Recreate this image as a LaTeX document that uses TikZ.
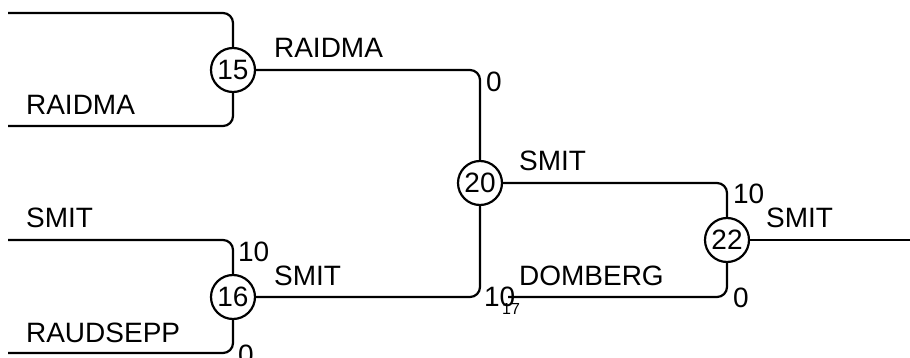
\documentclass[tikz,border=0pt]{standalone}
\usepackage{fontspec}
\setmainfont{Liberation Sans}
\begin{document}
\begin{tikzpicture}[x=1pt,y=-1pt,
  line width=2.2pt,
  matchnode/.style={circle,draw,line width=2.2pt,minimum size=44pt,inner sep=0pt,font=\fontsize{28}{30}\selectfont},
  namelbl/.style={anchor=base west,inner sep=0pt,font=\fontsize{28}{30}\selectfont},
  scorelbl/.style={anchor=base west,inner sep=0pt,font=\fontsize{28}{30}\selectfont},
  smalllbl/.style={anchor=base west,inner sep=0pt,font=\fontsize{16}{17}\selectfont},
  conn/.style={rounded corners=10pt}]
\useasboundingbox (0,0) rectangle (910,358);
% match nodes
\node[matchnode] (m15) at (233,70) {15};
\node[matchnode] (m16) at (233,297) {16};
\node[matchnode] (m20) at (480,183) {20};
\node[matchnode] (m22) at (727,240) {22};
% free ends
\coordinate (a1) at (8,13);
\coordinate (a2) at (8,126);
\coordinate (b1) at (8,240);
\coordinate (b2) at (8,353);
\coordinate (d1) at (508,297);
\coordinate (out) at (910,240);
% connectors
\draw[conn] (a1) -| (m15.north);
\draw[conn] (a2) -| (m15.south);
\draw[conn] (b1) -| (m16.north);
\draw[conn] (b2) -| (m16.south);
\draw[conn] (m15.east) -| (m20.north);
\draw[conn] (m16.east) -| (m20.south);
\draw[conn] (m20.east) -| (m22.north);
\draw[conn] (d1) -| (m22.south);
\draw (m22.east) -- (out);
% names
\node[namelbl] (t1) at (25,115) {RAIDMA};
\node[namelbl] (t2) at (25,228) {SMIT};
\node[namelbl] (t3) at (25,342) {RAUDSEPP};
\node[namelbl] (t4) at (273,58) {RAIDMA};
\node[namelbl] (t5) at (273,285) {SMIT};
\node[namelbl] (t6) at (518,171) {SMIT};
\node[namelbl] (t7) at (518,285) {DOMBERG};
\node[namelbl] (t8) at (765,228) {SMIT};
% scores
\node[scorelbl] (s1) at (485,92) {0};
\node[scorelbl] (s2) at (483,306) {10};
\node[scorelbl] (s3) at (237,261) {10};
\node[scorelbl] (s4) at (237,364) {0};
\node[scorelbl] (s5) at (732,204) {10};
\node[scorelbl] (s6) at (732,307) {0};
\node[smalllbl] (n17) at (501,314) {17};
\end{tikzpicture}
\end{document}
